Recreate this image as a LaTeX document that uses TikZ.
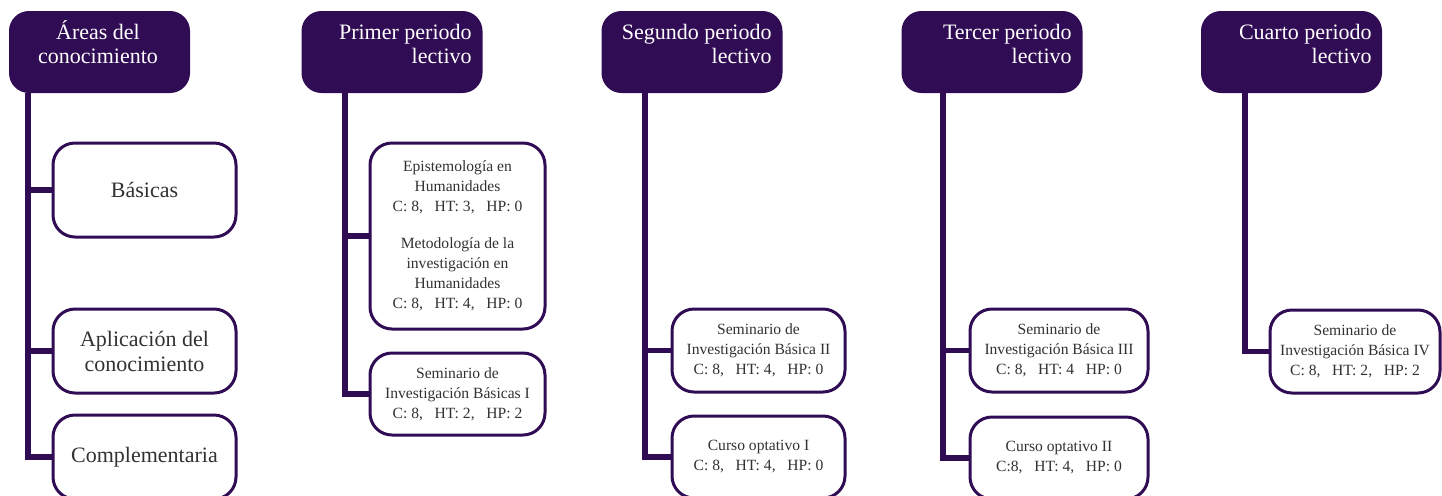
\documentclass[tikz,border=0pt]{standalone}
\usepackage{fontspec}
\setmainfont{Liberation Serif}
\usepackage{xcolor}
\definecolor{plumdark}{RGB}{48,12,84}
\definecolor{txtgray}{RGB}{50,50,50}

\begin{document}
\begin{tikzpicture}[x=0.5pt,y=-0.5pt,
    header/.style={fill=plumdark,rounded corners=10pt,minimum width=90.5pt,minimum height=41pt,inner sep=0pt},
    headtext/.style={text=white,font=\fontsize{11}{12}\selectfont,inner sep=0pt,align=right,anchor=north east},
    area/.style={draw=plumdark,line width=1.5pt,rounded corners=11pt,fill=white,minimum width=91.5pt,
        text=txtgray,font=\fontsize{11}{12.5}\selectfont,align=center},
    course/.style={draw=plumdark,line width=1.5pt,rounded corners=11pt,fill=white,
        text=txtgray,font=\fontsize{7.8}{10}\selectfont,align=center},
    trunk/.style={draw=plumdark,line width=2.6pt}]
    \useasboundingbox (0,0) rectangle (1442,495);

    % headers
    \node[header] (h1) at (99.5,52) {};
    \node[header] (h2) at (392,52) {};
    \node[header] (h3) at (692,52) {};
    \node[header] (h4) at (992,52) {};
    \node[header] (h5) at (1291.5,52) {};
    \node[headtext,align=center,anchor=north] (h1t) at (98,20) {Áreas del\\conocimiento};
    \node[headtext] (h2t) at (472,24) {Primer periodo\\lectivo};
    \node[headtext] (h3t) at (772,24) {Segundo periodo\\lectivo};
    \node[headtext] (h4t) at (1072,24) {Tercer periodo\\lectivo};
    \node[headtext] (h5t) at (1372,24) {Cuarto periodo\\lectivo};

    % trunk positions
    \coordinate (t1) at (28,93);
    \coordinate (t2) at (345,93);
    \coordinate (t3) at (645,93);
    \coordinate (t4) at (943,93);
    \coordinate (t5) at (1245,93);

    % areas
    \node[area,minimum height=47pt] (a1) at (144.5,190) {Básicas};
    \node[area,minimum height=42pt] (a2) at (144.5,351) {Aplicación del\\conocimiento};
    \node[area,minimum height=42pt] (a3) at (144.5,457) {Complementaria};

    % primer periodo
    \node[course,minimum width=87.5pt,minimum height=93pt] (p1) at (457.5,236)
        {Epistemología en\\Humanidades\\C: 8,~~ HT: 3,~~ HP: 0\\[8.5pt]
         Metodología de la\\investigación en\\Humanidades\\C: 8,~~ HT: 4,~~ HP: 0};
    \node[course,minimum width=87.5pt,minimum height=41pt] (p2) at (457.5,394)
        {Seminario de\\Investigación Básicas I\\C: 8,~~ HT: 2,~~ HP: 2};

    % segundo periodo
    \node[course,minimum width=86.5pt,minimum height=41.5pt] (s1) at (758.5,350.5)
        {Seminario de\\Investigación Básica II\\C: 8,~~ HT: 4,~~ HP: 0};
    \node[course,minimum width=86.5pt,minimum height=41pt] (s2) at (758.5,457)
        {Curso optativo I\\C: 8,~~ HT: 4,~~ HP: 0};

    % tercer periodo
    \node[course,minimum width=89pt,minimum height=41.5pt] (r1) at (1059,350.5)
        {Seminario de\\Investigación Básica III\\C: 8,~~ HT: 4~~ HP: 0};
    \node[course,minimum width=89pt,minimum height=41pt] (r2) at (1059,458)
        {Curso optativo II\\C:8,~~ HT: 4,~~ HP: 0};

    % cuarto periodo
    \node[course,minimum width=85pt,minimum height=41.5pt] (c1) at (1355,351.5)
        {Seminario de\\Investigación Básica IV\\C: 8,~~ HT: 2,~~ HP: 2};

    % connectors
    \draw[trunk] (t1) |- (a1.west);
    \draw[trunk] (t1) |- (a2.west);
    \draw[trunk] (t1) |- (a3.west);
    \draw[trunk] (t2) |- (p1.west);
    \draw[trunk] (t2) |- (p2.west);
    \draw[trunk] (t3) |- (s1.west);
    \draw[trunk] (t3) |- (s2.west);
    \draw[trunk] (t4) |- (r1.west);
    \draw[trunk] (t4) |- (r2.west);
    \draw[trunk] (t5) |- (c1.west);
\end{tikzpicture}
\end{document}
